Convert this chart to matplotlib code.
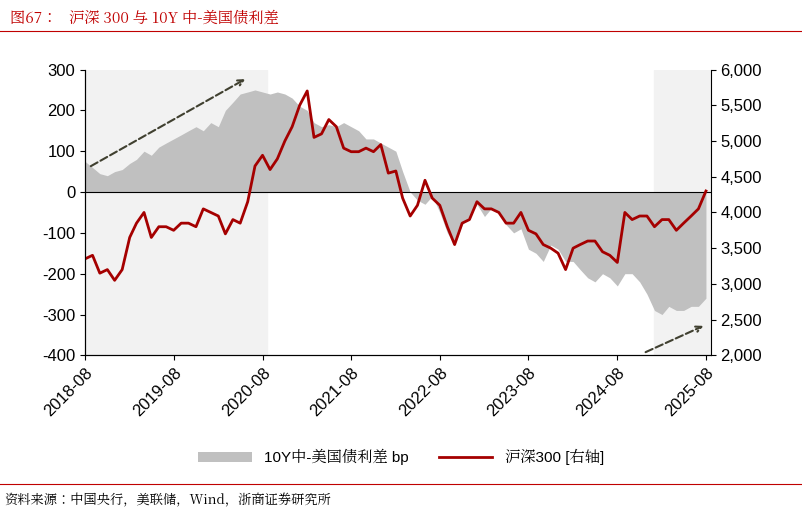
import matplotlib
matplotlib.use("Agg")
import matplotlib.pyplot as plt
from matplotlib import font_manager
import pandas as pd

cjk = [f.name for f in font_manager.fontManager.ttflist if "CJK" in f.name]
cjk_name = "Noto Sans CJK SC" if "Noto Sans CJK SC" in cjk else (cjk[0] if cjk else "DejaVu Sans")
plt.rcParams['font.family'] = ['Liberation Sans', cjk_name]
plt.rcParams['axes.unicode_minus'] = False

months = pd.date_range("2018-08-01", "2025-08-01", freq="MS")
spread = [75,60,45,40,50,55,70,80,100,90,110,120,130,140,150,160,150,170,160,200,220,240,245,250,245,240,245,240,230,
          210,200,170,160,165,160,170,160,150,130,130,120,110,100,50,0,-20,-30,-10,-50,-100,-130,-80,-60,
          -30,-60,-40,-50,-80,-100,-90,-140,-150,-170,-130,-140,-170,-170,-190,-210,-220,-200,-210,-230,-200,-200,-220,-250,
          -290,-300,-280,-290,-290,-280,-280,-260]
csi300 = [3350,3400,3150,3200,3050,3200,3650,3850,4000,3650,3800,3800,3750,3850,3850,3800,4050,4000,3950,3700,3900,3850,4150,4650,4800,4600,4750,5000,5200,
          5500,5700,5050,5100,5300,5200,4900,4850,4850,4900,4850,4950,4550,4580,4200,3950,4100,4450,4200,4100,3800,3550,3850,3900,
          4150,4050,4050,4000,3850,3850,4000,3750,3700,3550,3500,3430,3200,3500,3550,3600,3600,3450,3400,3300,4000,3900,3950,3950,
          3800,3900,3900,3750,3850,3950,4050,4300]
xticks = ["2018-08","2019-08","2020-08","2021-08","2022-08","2023-08","2024-08","2025-08"]

fig = plt.figure(figsize=(8.02, 5.15), dpi=100)
fig.text(0.012, 0.965, "图67：   沪深 300 与 10Y 中-美国债利差", color="#c00000", fontsize=11, va="center",
         family=cjk_name)
fig.add_artist(plt.Line2D([0.0, 1.0], [0.94, 0.94], color="#c00000", lw=0.8))
fig.add_artist(plt.Line2D([0.0, 1.0], [0.06, 0.06], color="#c00000", lw=0.8))
fig.text(0.005, 0.028, "资料来源：中国央行，美联储，Wind，浙商证券研究所", fontsize=9.5, va="center",
         family=cjk_name)

ax = fig.add_axes([0.106, 0.31, 0.78, 0.555])
ax.axvspan(pd.Timestamp("2018-08-01"), pd.Timestamp("2020-08-20"), color="#f2f2f2", zorder=0)
ax.axvspan(pd.Timestamp("2025-01-01"), pd.Timestamp("2025-08-20"), color="#f2f2f2", zorder=0)
ax.fill_between(months, 0, spread, color="#c0c0c0", lw=0, zorder=1, label="10Y中-美国债利差 bp")
ax.axhline(0, color="black", lw=0.8, zorder=2)
ax.set_ylim(-400, 300)
ax.set_yticks(range(-400, 301, 100))
ax.set_xlim(pd.Timestamp("2018-08-01"), pd.Timestamp("2025-08-20"))
ax.set_xticks([pd.Timestamp(t + "-01") for t in xticks])
ax.set_xticklabels(xticks, rotation=45, ha="right", rotation_mode="anchor")
ax.annotate("", xy=(pd.Timestamp("2020-06-01"), 280), xytext=(pd.Timestamp("2018-08-15"), 60),
            arrowprops=dict(arrowstyle="->", ls="--", color="#404030", lw=1.5))
ax.annotate("", xy=(pd.Timestamp("2025-08-01"), -325), xytext=(pd.Timestamp("2024-11-15"), -395),
            arrowprops=dict(arrowstyle="->", ls="--", color="#404030", lw=1.5))

ax2 = ax.twinx()
ax2.plot(months, csi300, color="#a50000", lw=2, label="沪深300 [右轴]")
ax2.set_ylim(2000, 6000)
ax2.set_yticks(range(2000, 6001, 500))
ax2.set_yticklabels([f"{v:,}" for v in range(2000, 6001, 500)])
for a in (ax, ax2):
    a.tick_params(labelsize=12)
    a.spines["top"].set_visible(False)
ax.spines["right"].set_visible(False)

h1, l1 = ax.get_legend_handles_labels()
h2, l2 = ax2.get_legend_handles_labels()
fig.legend(h1 + h2, l1 + l2, loc="center", bbox_to_anchor=(0.5, 0.112), ncol=2, frameon=False,
           prop={"family": ["Liberation Sans", cjk_name], "size": 11}, handlelength=3.5, columnspacing=2)
fig.savefig("out.png", dpi=100)
